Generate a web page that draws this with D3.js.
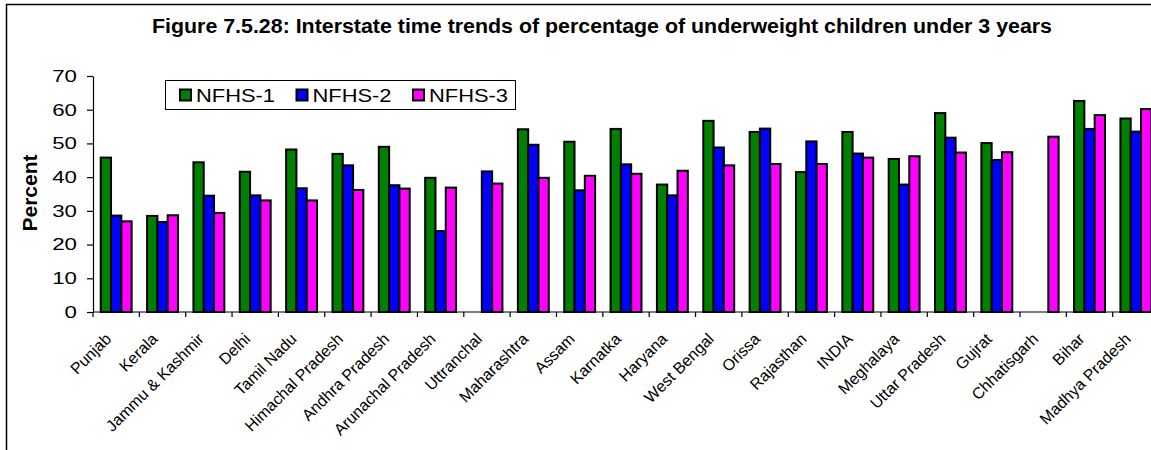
<!DOCTYPE html>
<html>
<head>
<meta charset="utf-8">
<script src="https://cdn.jsdelivr.net/npm/d3@7"></script>
<style>
    body { margin: 0; background: #fff; }
    svg { display: block; font-family: Arial, 'Liberation Sans', sans-serif; }
</style>
</head>
<body>
<div id="chart"></div>
<script>
const categories = ['Punjab', 'Kerala', 'Jammu & Kashmir', 'Delhi', 'Tamil Nadu', 'Himachal Pradesh',
    'Andhra Pradesh', 'Arunachal Pradesh', 'Uttranchal', 'Maharashtra', 'Assam', 'Karnatka', 'Haryana',
    'West Bengal', 'Orissa', 'Rajasthan', 'INDIA', 'Meghalaya', 'Uttar Pradesh', 'Gujrat', 'Chhatisgarh',
    'Bihar', 'Madhya Pradesh'];

const seriesNames = ['NFHS-1', 'NFHS-2', 'NFHS-3'];
const seriesColors = ['#008000', '#0000ff', '#ff00ff'];

const nfhs1 = [45.8, 28.5, 44.4, 41.6, 48.2, 46.9, 49.0, 39.8, null, 54.2, 50.5, 54.3,
    37.8, 56.7, 53.4, 41.5, 53.4, 45.4, 59.0, 50.1, null, 62.6, 57.4];
const nfhs2 = [28.6, 26.7, 34.5, 34.6, 36.7, 43.5, 37.6, 24.0, 41.7, 49.6, 36.1, 43.8,
    34.6, 48.8, 54.4, 50.6, 47.0, 37.8, 51.7, 45.1, null, 54.3, 53.5];
const nfhs3 = [26.9, 28.7, 29.4, 33.1, 33.1, 36.2, 36.6, 36.9, 38.1, 39.8, 40.4, 41.0,
    41.9, 43.5, 43.9, 43.9, 45.8, 46.2, 47.3, 47.4, 52.0, 58.4, 60.2];

const yTicks = [0, 10, 20, 30, 40, 50, 60, 70];

const titleText = 'Figure 7.5.28: Interstate time trends of percentage of underweight children under 3 years';
const yTitle = 'Percent';

const width = 1151;
const height = 450;

function drawChart() {
    const svg = d3.select('#chart')
        .append('svg')
        .attr('width', width)
        .attr('height', height);

    // outer chart frame (runs off right and bottom edges)
    svg.append('rect')
        .attr('x', 6.5).attr('y', 4.5)
        .attr('width', width + 20).attr('height', height + 20)
        .attr('fill', '#fff')
        .attr('stroke', '#000')
        .attr('stroke-width', 1.5);

    svg.append('text')
        .attr('x', 152).attr('y', 33)
        .attr('font-size', 20)
        .attr('font-weight', 'bold')
        .attr('textLength', 900)
        .attr('lengthAdjust', 'spacingAndGlyphs')
        .text(titleText);

    const left = 93;
    const step = 46.35;

    const x0 = d3.scaleBand()
        .domain(categories)
        .range([left, left + step * categories.length])
        .padding(0);

    const x1 = d3.scaleBand()
        .domain(seriesNames)
        .range([0, x0.bandwidth()])
        .paddingInner(0)
        .paddingOuter(0.75);

    const y = d3.scaleLinear()
        .domain([0, 70])
        .range([312, 76]);

    const rows = categories.map((c, i) => ({
        cat: c,
        vals: [nfhs1[i], nfhs2[i], nfhs3[i]]
    }));

    const groups = svg.append('g')
        .selectAll('g')
        .data(rows)
        .enter()
        .append('g')
        .attr('transform', d => `translate(${x0(d.cat)},0)`);

    groups.selectAll('rect')
        .data(d => d.vals.map((v, k) => ({ v, k })).filter(e => e.v != null))
        .enter()
        .append('rect')
        .attr('x', d => x1(seriesNames[d.k]))
        .attr('y', d => y(d.v))
        .attr('width', x1.bandwidth())
        .attr('height', d => y(0) - y(d.v))
        .attr('fill', d => seriesColors[d.k])
        .attr('stroke', '#000')
        .attr('stroke-width', 2);

    // y axis
    const yAxis = svg.append('g')
        .attr('transform', `translate(${left},0)`)
        .call(d3.axisLeft(y).tickValues(yTicks).tickSize(6).tickSizeOuter(0));
    yAxis.select('.domain').attr('stroke', '#000').attr('stroke-width', 1.2);
    yAxis.selectAll('.tick line').attr('stroke', '#000').attr('stroke-width', 1.2);
    yAxis.selectAll('.tick text')
        .attr('font-size', 16.5)
        .attr('fill', '#000')
        .attr('font-family', "Arial, 'Liberation Sans', sans-serif")
        .attr('x', -16 / 1.35)
        .attr('transform', 'scale(1.35,1)');

    // x axis: ticks on category boundaries
    const xAxis = svg.append('g')
        .attr('transform', `translate(0,${y(0)})`);
    xAxis.append('line')
        .attr('x1', left).attr('x2', width + 20)
        .attr('stroke', '#000').attr('stroke-width', 1.2);
    xAxis.selectAll('.xtick')
        .data(categories)
        .enter()
        .append('line')
        .attr('class', 'xtick')
        .attr('x1', d => x0(d)).attr('x2', d => x0(d))
        .attr('y1', 0).attr('y2', 5)
        .attr('stroke', '#000').attr('stroke-width', 1.2);

    svg.append('g')
        .selectAll('text')
        .data(categories)
        .enter()
        .append('text')
        .attr('transform', d => `translate(${x0(d) + x0.bandwidth() / 2 - 4},340) rotate(-45)`)
        .attr('text-anchor', 'end')
        .attr('font-size', 16)
        .attr('fill', '#000')
        .text(d => d);

    svg.append('text')
        .attr('transform', 'translate(37,193) rotate(-90)')
        .attr('text-anchor', 'middle')
        .attr('font-size', 21)
        .attr('font-weight', 'bold')
        .text(yTitle);

    drawLegend(svg);
}

function drawLegend(svg) {
    const legend = svg.append('g');

    legend.append('rect')
        .attr('x', 165.5).attr('y', 80.5)
        .attr('width', 350).attr('height', 29)
        .attr('fill', '#fff')
        .attr('stroke', '#000')
        .attr('stroke-width', 1);

    const items = legend.selectAll('g')
        .data(seriesNames)
        .enter()
        .append('g')
        .attr('transform', (d, i) => `translate(${179 + i * 116.5},0)`);

    items.append('rect')
        .attr('x', 1).attr('y', 89.5)
        .attr('width', 11).attr('height', 11)
        .attr('fill', (d, i) => seriesColors[i])
        .attr('stroke', '#000')
        .attr('stroke-width', 2);

    items.append('text')
        .attr('x', 17).attr('y', 101.7)
        .attr('font-size', 18.5)
        .attr('textLength', 79)
        .attr('lengthAdjust', 'spacingAndGlyphs')
        .text(d => d);
}

document.addEventListener('DOMContentLoaded', drawChart);
</script>
</body>
</html>
